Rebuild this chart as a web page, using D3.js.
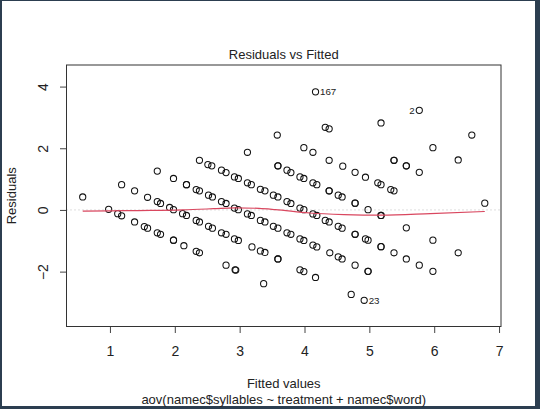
<!DOCTYPE html>
<html>
<head>
<meta charset="utf-8">
<script src="https://cdn.jsdelivr.net/npm/d3@7"></script>
<style>
    body { margin: 0; background: #2c3e50; }
    svg { display: block; }
    text { font-family: "Liberation Sans", Arial, sans-serif; fill: #222; }
    .tick line { stroke: #444; }
    .tick text { font-size: 14px; }
</style>
</head>
<body>
<div id="chart"></div>
<script>
// residuals vs fitted: [fitted, residual]
const obs = [
    [0.58, 0.42], [0.98, 0.02], [1.12, -0.12], [1.18, -0.19], [1.18, 0.82], [1.38, 0.62], [1.38, -0.39],
    [1.58, 0.41], [1.53, -0.54], [1.58, -0.59],
    [1.73, 1.26], [1.73, 0.27], [1.78, 0.21], [1.73, -0.74], [1.78, -0.79], [1.92, 0.08], [1.98, 0.01],
    [1.98, 1.02], [1.98, -0.98], [1.98, -0.98],
    [2.14, -1.16], [2.18, 0.82], [2.18, 0.82], [2.12, -0.12], [2.18, -0.18], [2.33, -1.34], [2.38, -1.39],
    [2.33, 0.66], [2.38, 0.62], [2.33, -0.34], [2.38, -0.39],
    [2.38, 1.61], [2.51, 1.47], [2.57, 1.43], [2.52, 0.48], [2.58, 0.42], [2.52, -0.53], [2.58, -0.59],
    [2.72, 1.29], [2.79, 1.21], [2.72, 0.27], [2.79, 0.21], [2.72, -0.74], [2.79, -0.79], [2.79, -1.79],
    [2.92, 1.07], [2.98, 1.02], [2.92, 0.06], [2.98, 0.01], [2.92, -0.94], [2.98, -0.99], [2.93, -1.94], [2.94, -1.95],
    [3.12, 1.87], [3.12, 0.88], [3.18, 0.82], [3.12, -0.13], [3.18, -0.18], [3.19, -1.20],
    [3.32, 0.67], [3.39, 0.62], [3.32, -0.34], [3.39, -0.39], [3.32, -1.33], [3.39, -1.38], [3.37, -2.39],
    [3.52, 0.48], [3.59, 0.42], [3.52, -0.53], [3.59, -0.59], [3.58, 2.43], [3.59, 1.43], [3.59, 1.43],
    [3.59, -1.59], [3.59, -1.59],
    [3.73, 1.29], [3.79, 1.21], [3.73, 0.27], [3.79, 0.21], [3.73, -0.74], [3.79, -0.79],
    [3.93, 1.07], [3.99, 1.02], [3.93, 0.06], [3.99, 0.01], [3.93, -0.94], [3.99, -0.99], [3.93, -1.94],
    [3.99, -2.00], [3.99, 2.02],
    [4.13, 1.87], [4.13, 0.88], [4.19, 0.82], [4.13, -0.13], [4.19, -0.18], [4.13, -1.14], [4.19, -1.20],
    [4.17, -2.19], [4.17, 3.83],
    [4.32, 2.68], [4.38, 2.63], [4.38, 1.61], [4.38, 0.62], [4.38, 0.62], [4.32, -0.34], [4.38, -0.39], [4.39, -1.39],
    [4.52, -1.52], [4.58, -1.59], [4.52, 0.48], [4.58, 0.42], [4.52, -0.53], [4.58, -0.59], [4.59, 1.42],
    [4.72, -2.74], [4.78, 1.22], [4.78, 0.22], [4.78, 0.22], [4.78, -0.79], [4.78, -0.79], [4.78, -1.79],
    [4.92, -2.93], [4.94, 1.06], [4.94, -0.94], [4.98, -0.98], [4.98, 0.01], [4.98, -1.99], [4.98, -1.99],
    [5.13, 0.88], [5.18, 0.82], [5.18, 2.82], [5.18, -0.18], [5.18, -0.18], [5.18, -1.19], [5.18, -1.19],
    [5.33, 0.66], [5.38, 0.62], [5.38, 1.61], [5.38, 1.61], [5.38, -1.39],
    [5.57, 1.43], [5.57, 1.43], [5.57, -0.58], [5.57, -1.59],
    [5.77, 3.23], [5.77, 1.22], [5.77, -1.79],
    [5.98, 2.02], [5.98, -0.98], [5.98, -1.99],
    [6.37, 1.62], [6.37, -1.39], [6.58, 2.43], [6.78, 0.22]
];

// smoother (red line)
const smoothFit = [0.58, 1.0, 1.43, 2.12, 2.6, 2.92, 3.3, 3.55, 4.08, 4.61, 5.18, 5.94, 6.78];
const smoothRes = [-0.04, -0.03, -0.02, 0.0, 0.04, 0.07, 0.05, 0.01, -0.10, -0.15, -0.17, -0.12, -0.05];

// labelled observations
const idText = ["167", "23", "2"];
const idFit = [4.17, 4.92, 5.77];
const idRes = [3.83, -2.93, 3.23];
const idLeft = [false, false, true];

const xTicks = [1, 2, 3, 4, 5, 6, 7];
const yTicks = [-2, 0, 2, 4];

const W = 540, H = 409;
const box = {left: 66.5, right: 501, top: 65, bottom: 326.5};

let svg = d3.select("#chart")
    .append("svg")
    .attr("width", W)
    .attr("height", H);

// white page inside the dark frame
svg.append("rect")
    .attr("x", 2).attr("y", 1)
    .attr("width", 533).attr("height", 405)
    .attr("fill", "#fff");

let x = d3.scaleLinear()
    .domain([0.33, 7.03])
    .range([box.left, box.right]);

let y = d3.scaleLinear()
    .domain([-3.78, 4.70])
    .range([box.bottom, box.top]);

// dotted zero line
svg.append("line")
    .attr("x1", box.left).attr("x2", box.right)
    .attr("y1", y(0)).attr("y2", y(0))
    .attr("stroke", "#bebebe")
    .attr("stroke-dasharray", "1,3");

svg.selectAll("circle.pt")
    .data(obs)
    .enter()
    .append("circle")
    .attr("class", "pt")
    .attr("cx", d => x(d[0]))
    .attr("cy", d => y(d[1]))
    .attr("r", 3.1)
    .attr("fill", "none")
    .attr("stroke", "#111")
    .attr("stroke-width", 1.05);

svg.append("path")
    .datum(smoothFit.map((f, i) => [f, smoothRes[i]]))
    .attr("fill", "none")
    .attr("stroke", "#d9475f")
    .attr("stroke-width", 1.2)
    .attr("d", d3.line()
        .x(d => x(d[0]))
        .y(d => y(d[1]))
        .curve(d3.curveMonotoneX)
    );

// id labels
svg.selectAll("text.id")
    .data(idText)
    .enter()
    .append("text")
    .attr("class", "id")
    .attr("x", (d, i) => x(idFit[i]) + (idLeft[i] ? -4.5 : 4.5))
    .attr("y", (d, i) => y(idRes[i]) + 3.5)
    .attr("text-anchor", (d, i) => idLeft[i] ? "end" : "start")
    .style("font-size", "9.75px")
    .text(d => d);

// axes
let xAxis = svg.append("g")
    .attr("transform", "translate(0," + box.bottom + ")")
    .call(d3.axisBottom(x)
        .tickValues(xTicks)
        .tickSizeInner(6.5)
        .tickSizeOuter(0)
        .tickPadding(13)
        .tickFormat(d3.format("d"))
    );
xAxis.select(".domain").remove();

let yAxis = svg.append("g")
    .attr("transform", "translate(" + box.left + ",0)")
    .call(d3.axisLeft(y)
        .tickValues(yTicks)
        .tickSizeInner(6.5)
        .tickSizeOuter(0)
        .tickFormat(d3.format("d"))
    );
yAxis.select(".domain").remove();
yAxis.selectAll(".tick text")
    .attr("x", 0)
    .attr("y", -18.5)
    .attr("dy", 0)
    .attr("text-anchor", "middle")
    .attr("transform", "rotate(-90)");

svg.append("rect")
    .attr("x", box.left).attr("y", box.top)
    .attr("width", box.right - box.left)
    .attr("height", box.bottom - box.top)
    .attr("fill", "none")
    .attr("stroke", "#333")
    .attr("stroke-width", 1);

// titles
svg.append("text")
    .attr("x", (box.left + box.right) / 2)
    .attr("y", 58.5)
    .attr("text-anchor", "middle")
    .style("font-size", "13px")
    .text("Residuals vs Fitted");

svg.append("text")
    .attr("x", (box.left + box.right) / 2)
    .attr("y", 387.5)
    .attr("text-anchor", "middle")
    .style("font-size", "13px")
    .text("Fitted values");

svg.append("text")
    .attr("x", (box.left + box.right) / 2)
    .attr("y", 403.5)
    .attr("text-anchor", "middle")
    .style("font-size", "13px")
    .text("aov(namec$syllables ~ treatment + namec$word)");

svg.append("text")
    .attr("transform", "translate(15.5," + (box.top + box.bottom) / 2 + ") rotate(-90)")
    .attr("text-anchor", "middle")
    .style("font-size", "13px")
    .text("Residuals");
</script>
</body>
</html>
